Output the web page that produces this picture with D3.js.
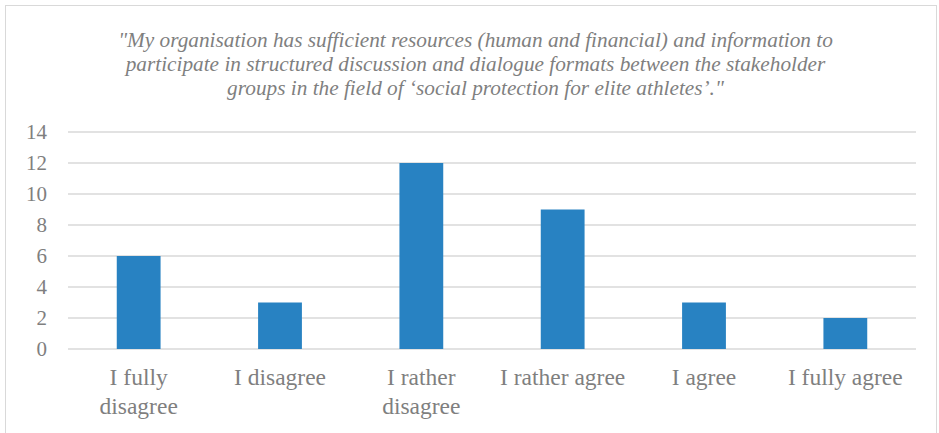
<!DOCTYPE html>
<html><head><meta charset="utf-8">
<script src="https://cdn.jsdelivr.net/npm/d3@7"></script>
</head><body style="margin:0">
<script>
const categories = [["I fully","disagree"],["I disagree"],["I rather","disagree"],["I rather agree"],["I agree"],["I fully agree"]];
const values = [6,3,12,9,3,2];
const yTicks = [0,2,4,6,8,10,12,14];
const titleLines = ["\"My organisation has sufficient resources (human and financial) and information to",
  "participate in structured discussion and dialogue formats between the stakeholder",
  "groups in the field of \u2018social protection for elite athletes\u2019.\""];

const W=939,H=433;
const svg=d3.select("body").append("svg").attr("width",W).attr("height",H).style("display","block");
svg.append("rect").attr("x",5.5).attr("y",5.5).attr("width",W-8).attr("height",H).attr("fill","#fff").attr("stroke","#d9d9d9").attr("stroke-width",1);

const m={l:68,r:916,t:132,b:349};
const x=d3.scaleBand().domain(d3.range(categories.length)).range([m.l,m.r]).paddingInner(0.69).paddingOuter(0.345);
const y=d3.scaleLinear().domain([0,14]).range([m.b,m.t]);

const font='"Liberation Serif"';
const title=svg.append("g").selectAll("text").data(titleLines).join("text")
  .attr("x",475.5).attr("y",(d,i)=>47+i*24).attr("text-anchor","middle")
  .style("font-family",font).style("font-style","italic").style("font-size","18.5px").attr("fill","#7f7f7f").text(d=>d);
const w0=title.nodes()[0].getBBox().width;
title.style("font-size",(18.5*715/w0).toFixed(2)+"px");

svg.append("g").selectAll("line").data(yTicks).join("line")
  .attr("x1",m.l).attr("x2",m.r).attr("y1",d=>y(d)).attr("y2",d=>y(d))
  .attr("stroke","#d9d9d9").attr("stroke-width",1.5);

svg.append("g").selectAll("text").data(yTicks).join("text")
  .attr("x",47).attr("y",d=>y(d)).attr("dy","0.35em").attr("text-anchor","end")
  .style("font-family",font).style("font-size","21px").attr("fill","#7f7f7f").text(d=>d);

svg.append("g").selectAll("rect").data(values).join("rect")
  .attr("x",(d,i)=>x(i)).attr("width",x.bandwidth())
  .attr("y",d=>y(d)).attr("height",d=>y(0)-y(d)).attr("fill","#2882c2");

const xl=svg.append("g").selectAll("text").data(categories).join("text")
  .attr("x",(d,i)=>x(i)+x.bandwidth()/2).attr("y",385).attr("text-anchor","middle")
  .style("font-family",font).style("font-size","23.5px").attr("fill","#7f7f7f");
xl.selectAll("tspan").data(d=>d).join("tspan")
  .attr("x",function(){return d3.select(this.parentNode).attr("x");})
  .attr("dy",(d,i)=>i?29:0).text(d=>d);
</script>
</body></html>
